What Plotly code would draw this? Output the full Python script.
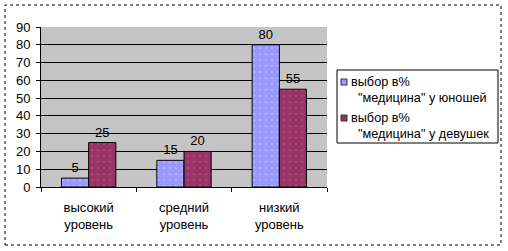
import plotly.graph_objects as go

categories = ["высокий<br>уровень", "средний<br>уровень", "низкий<br>уровень"]
boys = [5, 15, 80]
girls = [25, 20, 55]
series_names = ["выбор в%<br>\"медицина\" у юношей", "выбор в%<br>\"медицина\" у девушек"]
legend_lines = [("выбор в%", "\"медицина\" у юношей"), ("выбор в%", "\"медицина\" у девушек")]
colors = ["#9999ff", "#993366"]
pattern_fg = ["#c8c8ff", "#b86688"]
y_ticks = [0, 10, 20, 30, 40, 50, 60, 70, 80, 90]

W, H = 508, 251
L, R, T, B = 41, 181, 27, 64
pw, ph = W - L - R, H - T - B

def px(x):
    return (x - L) / pw

def py(y):
    return (H - B - y) / ph

font = dict(family="Liberation Sans, Arial", size=13, color="black")
lfont = dict(family="Liberation Sans, Arial", size=12.7, color="black")

fig = go.Figure()
for name, vals, color, fg in zip(series_names, [boys, girls], colors, pattern_fg):
    fig.add_trace(go.Bar(
        x=categories, y=vals, name=name,
        text=[str(v) for v in vals], textposition="outside",
        textfont=font, cliponaxis=False,
        marker=dict(color=color, line=dict(color="black", width=1),
                    pattern=dict(shape=".", fgcolor=fg, size=6, solidity=0.15)),
    ))

shapes = [
    dict(type="rect", xref="paper", yref="paper",
         x0=px(5), x1=px(501), y0=py(245), y1=py(5),
         line=dict(color="black", width=1, dash="dot"), layer="below"),
    dict(type="rect", xref="paper", yref="paper",
         x0=px(337), x1=px(498), y0=py(143), y1=py(70),
         fillcolor="white", line=dict(color="black", width=1)),
]
annotations = []
item_tops = [82, 118]
for (l1, l2), color, yc in zip(legend_lines, colors, item_tops):
    shapes.append(dict(type="rect", xref="paper", yref="paper",
                       x0=px(341), x1=px(347), y0=py(yc + 3), y1=py(yc - 3),
                       fillcolor=color, line=dict(color="#333333", width=1)))
    annotations.append(dict(text=l1, xref="paper", yref="paper", x=px(348.5), y=py(yc),
                            xanchor="left", yanchor="middle", showarrow=False, font=lfont))
    annotations.append(dict(text=l2, xref="paper", yref="paper", x=px(355.5), y=py(yc + 16),
                            xanchor="left", yanchor="middle", showarrow=False, font=lfont))

fig.update_layout(
    width=W, height=H,
    margin=dict(l=L, r=R, t=T, b=B, autoexpand=False),
    paper_bgcolor="white", plot_bgcolor="#c4c4c4",
    barmode="group", bargap=0.43, bargroupgap=0,
    font=font,
    showlegend=False,
    xaxis=dict(showline=True, linecolor="black", linewidth=1,
               ticks="outside", ticklen=4, tickcolor="black", tickson="boundaries",
               tickfont=font, showgrid=False, mirror=False, ticklabelstandoff=8),
    yaxis=dict(range=[0, 90], tickvals=y_ticks, showline=True, linecolor="black", linewidth=1,
               ticks="outside", ticklen=4, tickcolor="black",
               showgrid=True, gridcolor="black", gridwidth=1,
               tickfont=font, zeroline=False, ticklabelstandoff=3),
    shapes=shapes,
    annotations=annotations,
)

fig.write_html("out.html")
